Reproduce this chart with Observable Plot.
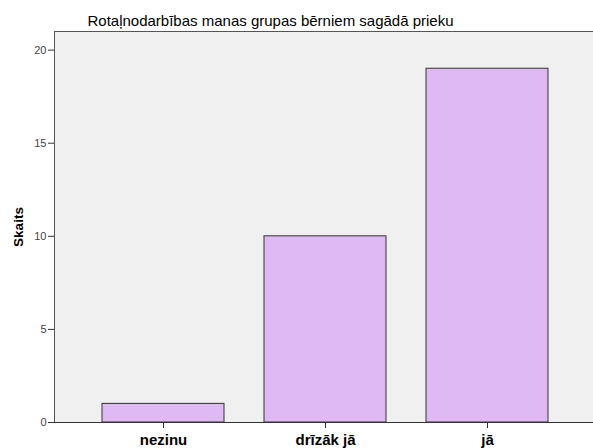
<!DOCTYPE html>
<html><head><meta charset="utf-8">
<script src="https://cdn.jsdelivr.net/npm/d3@7"></script>
<script src="https://cdn.jsdelivr.net/npm/@observablehq/plot@0.6"></script>
<style>body{margin:0;background:#fff;overflow:hidden}</style>
</head><body><div id="chart"></div>
<script>
const categories = ["nezinu", "drīzāk jā", "jā"];
const counts = [1, 10, 19];
const yTicks = [0, 5, 10, 15, 20];
const title = "Rotaļnodarbības manas grupas bērniem sagādā prieku";
const yLabel = "Skaits";

const data = categories.map((c, i) => ({category: c, count: counts[i]}));

const chart = Plot.plot({
  width: 593,
  height: 448,
  marginLeft: 54,
  marginRight: -3,
  marginTop: 31,
  marginBottom: 26,
  style: {fontFamily: "'Liberation Sans', Arial, sans-serif", background: "#fff"},
  x: {type: "band", domain: categories, range: [54, 596], paddingInner: 0.25, paddingOuter: 0.2877, label: null},
  y: {domain: [0, 21], range: [422, 31], label: null},
  marks: [
    Plot.frame({fill: "#f0f0f0", stroke: "#555"}),
    Plot.barY(data, {x: "category", y: "count", fill: "#dfb9f3", stroke: "#333", strokeWidth: 1}),
    Plot.ruleY([0], {stroke: "#333"}),
    Plot.axisY({ticks: yTicks, tickSize: 6, tickPadding: 2, fontSize: 11, color: "#444", stroke: "#333", label: null}),
    Plot.axisX({tickSize: 6, tickPadding: 6, fontSize: 15, fontWeight: "bold", color: "#000", stroke: "#333", label: null}),
    Plot.text([title], {frameAnchor: "top-left", dx: 216, dy: -10, textAnchor: "middle", lineAnchor: "middle", fontSize: 15, fill: "#000"}),
    Plot.text([yLabel], {frameAnchor: "left", dx: -36, rotate: -90, textAnchor: "middle", fontSize: 13.5, fontWeight: "bold", fill: "#000"})
  ]
});
document.getElementById("chart").append(chart);
</script>
</body></html>
